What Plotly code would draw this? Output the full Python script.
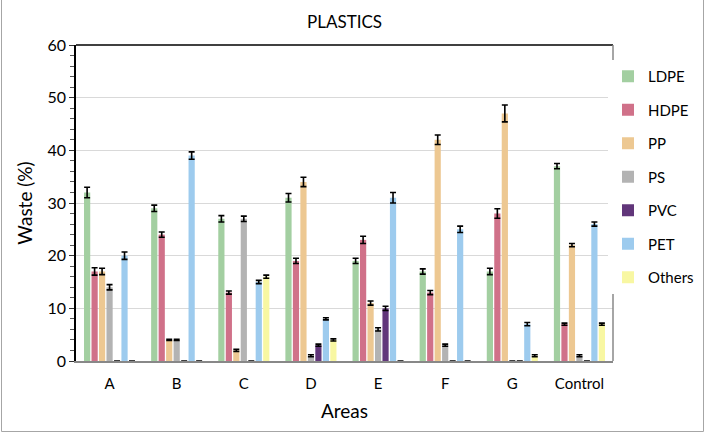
import plotly.graph_objects as go

areas = ["A", "B", "C", "D", "E", "F", "G", "Control"]
series_names = ["LDPE", "HDPE", "PP", "PS", "PVC", "PET", "Others"]
ldpe = [32, 29, 27, 31, 19, 17, 17, 37]
hdpe = [17, 24, 13, 19, 23, 13, 28, 7]
pp = [17, 4, 2, 34, 11, 42, 47, 22]
ps = [14, 4, 27, 1, 6, 3, 0, 1]
pvc = [0, 0, 0, 3, 10, 0, 0, 0]
pet = [20, 39, 15, 8, 31, 25, 7, 26]
others = [0, 0, 16, 4, 0, 0, 1, 7]

ldpe_err = [1.0, 0.6, 0.6, 0.8, 0.5, 0.5, 0.6, 0.5]
hdpe_err = [0.7, 0.5, 0.3, 0.5, 0.7, 0.4, 0.9, 0.2]
pp_err = [0.6, 0.1, 0.2, 0.9, 0.4, 0.9, 1.6, 0.3]
ps_err = [0.5, 0.1, 0.5, 0.2, 0.3, 0.2, 0.0, 0.2]
pvc_err = [0.0, 0.0, 0.0, 0.2, 0.4, 0.0, 0.0, 0.0]
pet_err = [0.7, 0.7, 0.3, 0.2, 1.0, 0.6, 0.3, 0.4]
others_err = [0.0, 0.0, 0.3, 0.2, 0.0, 0.0, 0.2, 0.2]

values = [ldpe, hdpe, pp, ps, pvc, pet, others]
errors = [ldpe_err, hdpe_err, pp_err, ps_err, pvc_err, pet_err, others_err]
colors = ["#A3CFA1", "#D07189", "#EDC892", "#B3B3B3", "#61367A", "#9DCBEE", "#F8F7A2"]

fig = go.Figure()
for name, vals, errs, col in zip(series_names, values, errors, colors):
    fig.add_trace(go.Bar(
        name=name, x=areas, y=vals, marker_color=col, marker_line_width=0,
        legendgroup=name,
        error_y=dict(type="data", array=errs, visible=True, color="black",
                     thickness=1.6, width=3),
    ))

W, H = 705, 433
L, R, T, B = 76, 92, 45, 72
fig.update_layout(
    width=W, height=H,
    margin=dict(l=L, r=R, t=T, b=B, autoexpand=False),
    paper_bgcolor="white", plot_bgcolor="white",
    font=dict(family="Lato, Open Sans, sans-serif", color="black"),
    title=dict(text="PLASTICS", x=0.5, xanchor="center", xref="paper",
               y=(H - 22) / H, yanchor="middle", font=dict(size=17)),
    barmode="group", bargap=0.22, bargroupgap=0.17,
    legend=dict(x=608 / W, y=(H - 60) / H, xanchor="left", yanchor="top",
                xref="container", yref="container", maxheight=400,
                font=dict(size=15), tracegroupgap=11, itemwidth=30,
                traceorder="grouped"),
    showlegend=True,
)
fig.update_yaxes(
    range=[0, 60], dtick=10, showgrid=True, gridcolor="#D9D9D9", gridwidth=1,
    ticks="outside", ticklen=5, tickcolor="#333", tickfont=dict(size=16),
    minor=dict(dtick=2, ticks="outside", ticklen=4, tickcolor="#555", showgrid=False),
    showline=True, linecolor="black", linewidth=1.5, automargin=False,
    title=dict(text="Waste (%)", font=dict(size=19), standoff=10),
    zeroline=False,
)
fig.update_xaxes(
    showline=True, linecolor="#888", linewidth=1.5, ticks="", automargin=False,
    tickfont=dict(size=15), ticklabelstandoff=8,
    title=dict(text="Areas", font=dict(size=19), standoff=14),
)
pw, ph = W - L - R, H - T - B
# frame: top black, right gray
fig.add_shape(type="line", xref="paper", yref="paper", x0=0, x1=1, y0=1, y1=1,
              line=dict(color="black", width=1.5))
fig.add_shape(type="line", xref="paper", yref="paper", x0=1, x1=1, y0=0, y1=1,
              line=dict(color="#888", width=1.5))
# outer chart border
fig.add_shape(type="rect", xref="paper", yref="paper",
              x0=-(L - 1.5) / pw, x1=(W - L - 1.5) / pw,
              y0=-(B - 1.5) / ph, y1=(H - T - 1.5) / ph,
              line=dict(color="#A6A6A6", width=1))

fig.write_html("out.html", config={"displayModeBar": False},
               post_script="document.body.style.margin='0';document.body.style.overflow='hidden';")
